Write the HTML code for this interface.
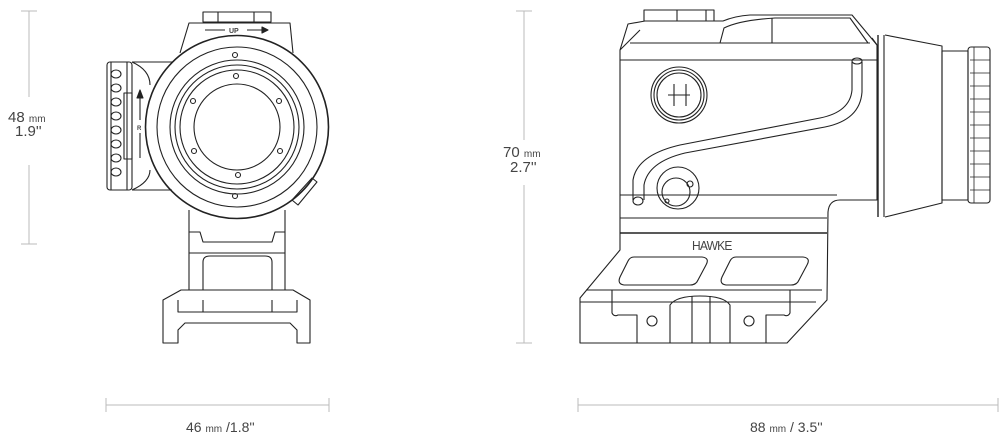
<!DOCTYPE html>
<html><head><meta charset="utf-8"><style>
html,body{margin:0;padding:0;background:#fff;}
svg{display:block;}
text{font-family:"Liberation Sans",sans-serif;fill:#444;}
</style></head><body>
<svg width="1000" height="437" viewBox="0 0 1000 437" xmlns="http://www.w3.org/2000/svg">
<g stroke="#bbb" stroke-width="1" fill="none">
 <line x1="29" y1="11" x2="29" y2="97"/><line x1="29" y1="165" x2="29" y2="244"/>
 <line x1="21" y1="11" x2="37" y2="11"/><line x1="21" y1="244" x2="37" y2="244"/>
 <line x1="524" y1="11" x2="524" y2="140"/><line x1="524" y1="185" x2="524" y2="343"/>
 <line x1="516" y1="11" x2="532" y2="11"/><line x1="516" y1="343" x2="532" y2="343"/>
 <line x1="106" y1="405" x2="329" y2="405"/><line x1="106" y1="398" x2="106" y2="412"/><line x1="329" y1="398" x2="329" y2="412"/>
 <line x1="578" y1="405" x2="998" y2="405"/><line x1="578" y1="398" x2="578" y2="412"/><line x1="998" y1="398" x2="998" y2="412"/>
</g>
<text x="8" y="122" font-size="15">48 <tspan font-size="10">mm</tspan></text>
<text x="15" y="136" font-size="15">1.9''</text>
<text x="503" y="157" font-size="15">70 <tspan font-size="10">mm</tspan></text>
<text x="510" y="172" font-size="15">2.7''</text>
<text x="186" y="432" font-size="14">46 <tspan font-size="10">mm</tspan> /1.8''</text>
<text x="750" y="432" font-size="14">88 <tspan font-size="10">mm</tspan> / 3.5''</text>

<g stroke="#222" stroke-width="1.1" fill="none" stroke-linejoin="round">
 <!-- FRONT VIEW -->
 <rect x="203" y="12" width="68" height="10"/>
 <line x1="218" y1="12" x2="218" y2="22"/><line x1="254" y1="12" x2="254" y2="22"/>
 <path d="M180 53 L189 23 L290 23 L293 53"/>
 <line x1="205" y1="30" x2="225" y2="30"/><line x1="247" y1="30" x2="266" y2="30"/>
 <path d="M262 27 L268 30 L262 33 Z" fill="#222"/>
 <text x="229" y="33" font-size="7" fill="#222" stroke="none" font-weight="bold">UP</text>
 <circle cx="237" cy="127" r="91.5" stroke-width="1.6"/>
 <circle cx="237" cy="127" r="80"/>
 <circle cx="237" cy="127" r="67"/>
 <circle cx="237" cy="127" r="62"/>
 <circle cx="237" cy="127" r="57"/>
 <circle cx="237" cy="127" r="43"/>
 <circle cx="235" cy="55" r="2.5"/><circle cx="235" cy="196" r="2.5"/>
 <circle cx="236" cy="76" r="2.5"/><circle cx="238" cy="175" r="2.5"/>
 <circle cx="193" cy="101" r="2.5"/><circle cx="279" cy="101" r="2.5"/>
 <circle cx="194" cy="151" r="2.5"/><circle cx="280" cy="151" r="2.5"/>
 <!-- left knob -->
 <path d="M132 62 L172 62 M132 190 L172 190"/>
 <path d="M132 62 Q150 70 150 85 M132 190 Q150 182 150 170"/>
 <rect x="107" y="62" width="25" height="128" rx="3"/>
 <line x1="111" y1="62" x2="111" y2="190"/><line x1="127" y1="62" x2="127" y2="190"/>
 <g>
  <ellipse cx="116" cy="74" rx="5" ry="4"/><ellipse cx="116" cy="88" rx="5" ry="4"/><ellipse cx="116" cy="102" rx="5" ry="4"/>
  <ellipse cx="116" cy="116" rx="5" ry="4"/><ellipse cx="116" cy="130" rx="5" ry="4"/><ellipse cx="116" cy="144" rx="5" ry="4"/>
  <ellipse cx="116" cy="158" rx="5" ry="4"/><ellipse cx="116" cy="172" rx="5" ry="4"/>
 </g>
 <rect x="124" y="93" width="8" height="66"/>
 <line x1="140" y1="97" x2="140" y2="120"/><line x1="140" y1="133" x2="140" y2="158"/>
 <path d="M137 98 L140 90 L143 98 Z" fill="#222"/>
 <text x="137" y="130" font-size="6" fill="#222" stroke="none" font-weight="bold">R</text>
 <!-- right lever -->
 <path d="M292 200 L312 178 L317 182 L298 205 Z"/>
 <!-- neck & mount -->
 <path d="M189 210 L189 290 M285 210 L285 290"/>
 <path d="M189 232 L200 232 L203 242 L272 242 L275 232 L285 232"/>
 <line x1="189" y1="253" x2="285" y2="253"/>
 <path d="M203 290 L203 262 Q203 256 210 256 L265 256 Q272 256 272 262 L272 290"/>
 <path d="M181 290 L163 300 L163 343 L178 343 L178 330 L185 323 L290 323 L297 330 L297 343 L310 343 L310 300 L293 290 Z"/>
 <path d="M178 300 L178 312 L297 312 L297 300"/>
 <line x1="203" y1="312" x2="203" y2="300"/><line x1="272" y1="312" x2="272" y2="300"/>

 <!-- SIDE VIEW -->
 <rect x="644" y="10" width="70" height="11"/>
 <line x1="677" y1="10" x2="677" y2="21"/><line x1="706" y1="10" x2="706" y2="21"/>
 <path d="M620 50 L628 24 L645 21 L723 21 Q735 16 750 15 L852 15 L877 45"/>
 <path d="M620 50 L640 30 M877 45 L872 38"/>
 <path d="M720 43 L724 28 Q740 20 775 18 L850 18 L868 43"/>
 <line x1="772" y1="18" x2="772" y2="43"/>
 <line x1="630" y1="43" x2="870" y2="43"/>
 <line x1="620" y1="60" x2="877" y2="60"/>
 <line x1="620" y1="195" x2="837" y2="195"/>
 <line x1="620" y1="218" x2="827" y2="218"/>
 <line x1="620" y1="233" x2="827" y2="233" stroke-width="1.6"/>
 <path d="M877 45 L877 200 L840 200 Q829 200 828 212 L827 300 L787 343 L580 343 L580 298 L620 250 L620 50"/>
 <line x1="878" y1="35" x2="878" y2="217" stroke-width="1.4"/>
 <line x1="884" y1="35" x2="884" y2="217"/>
 <path d="M885 35 L942 46 L942 203 L885 217"/>
 <rect x="942" y="51" width="26" height="149"/>
 <rect x="968" y="47" width="22" height="156" rx="3"/>
 <g stroke-width="0.8">
  <line x1="970" y1="60" x2="990" y2="60"/><line x1="970" y1="73" x2="990" y2="73"/><line x1="970" y1="86" x2="990" y2="86"/>
  <line x1="970" y1="99" x2="990" y2="99"/><line x1="970" y1="112" x2="990" y2="112"/><line x1="970" y1="125" x2="990" y2="125"/>
  <line x1="970" y1="138" x2="990" y2="138"/><line x1="970" y1="151" x2="990" y2="151"/><line x1="970" y1="164" x2="990" y2="164"/>
  <line x1="970" y1="177" x2="990" y2="177"/><line x1="970" y1="190" x2="990" y2="190"/>
  <line x1="974" y1="47" x2="974" y2="203"/>
 </g>
 <!-- H button -->
 <circle cx="679" cy="95" r="28"/><circle cx="679" cy="95" r="25"/><circle cx="679" cy="95" r="22"/>
 <line x1="668" y1="95" x2="690" y2="95"/><line x1="674" y1="84" x2="674" y2="106"/><line x1="686" y1="84" x2="686" y2="106"/>
 <!-- small knob -->
 <circle cx="678" cy="188" r="21"/><circle cx="676" cy="192" r="14"/>
 <circle cx="690" cy="184" r="3"/><circle cx="667" cy="201" r="2"/>
 <!-- S tube -->
 <path d="M852 62 L852 90 Q850 112 820 118 L680 145 Q637 155 633 180 L633 200"/>
 <path d="M862 62 L862 92 Q860 120 825 127 L685 153 Q648 162 644 185 L644 200"/>
 <ellipse cx="857" cy="61" rx="5" ry="3"/><ellipse cx="638" cy="201" rx="5" ry="4"/>
 <!-- mount -->
 <text x="692" y="250" font-size="12" fill="#222" stroke="none" letter-spacing="-0.8" transform="translate(692 250) scale(1 1.1) translate(-692 -250)">HAWKE</text>
 <path d="M634 257 L702 257 Q710 258 706 265 L698 280 Q696 285 690 285 L624 285 Q617 284 620 277 L628 261 Q630 257 634 257 Z"/>
 <path d="M736 257 L803 257 Q811 258 807 265 L799 280 Q797 285 791 285 L726 285 Q719 284 722 277 L730 261 Q732 257 736 257 Z"/>
 <line x1="586" y1="290" x2="822" y2="290"/>
 <line x1="580" y1="302" x2="816" y2="302"/>
 <path d="M612 290 L612 313 Q614 317 618 315 L637 315 L637 343"/>
 <path d="M790 290 L790 313 Q788 317 784 315 L766 315 L766 343"/>
 <path d="M670 343 L670 305 Q676 296 700 296 Q724 296 730 305 L730 343"/>
 <line x1="692" y1="296" x2="692" y2="343"/><line x1="710" y1="296" x2="710" y2="343"/>
 <circle cx="652" cy="321" r="5"/><circle cx="749" cy="321" r="5"/>
</g>
</svg>
</body></html>
